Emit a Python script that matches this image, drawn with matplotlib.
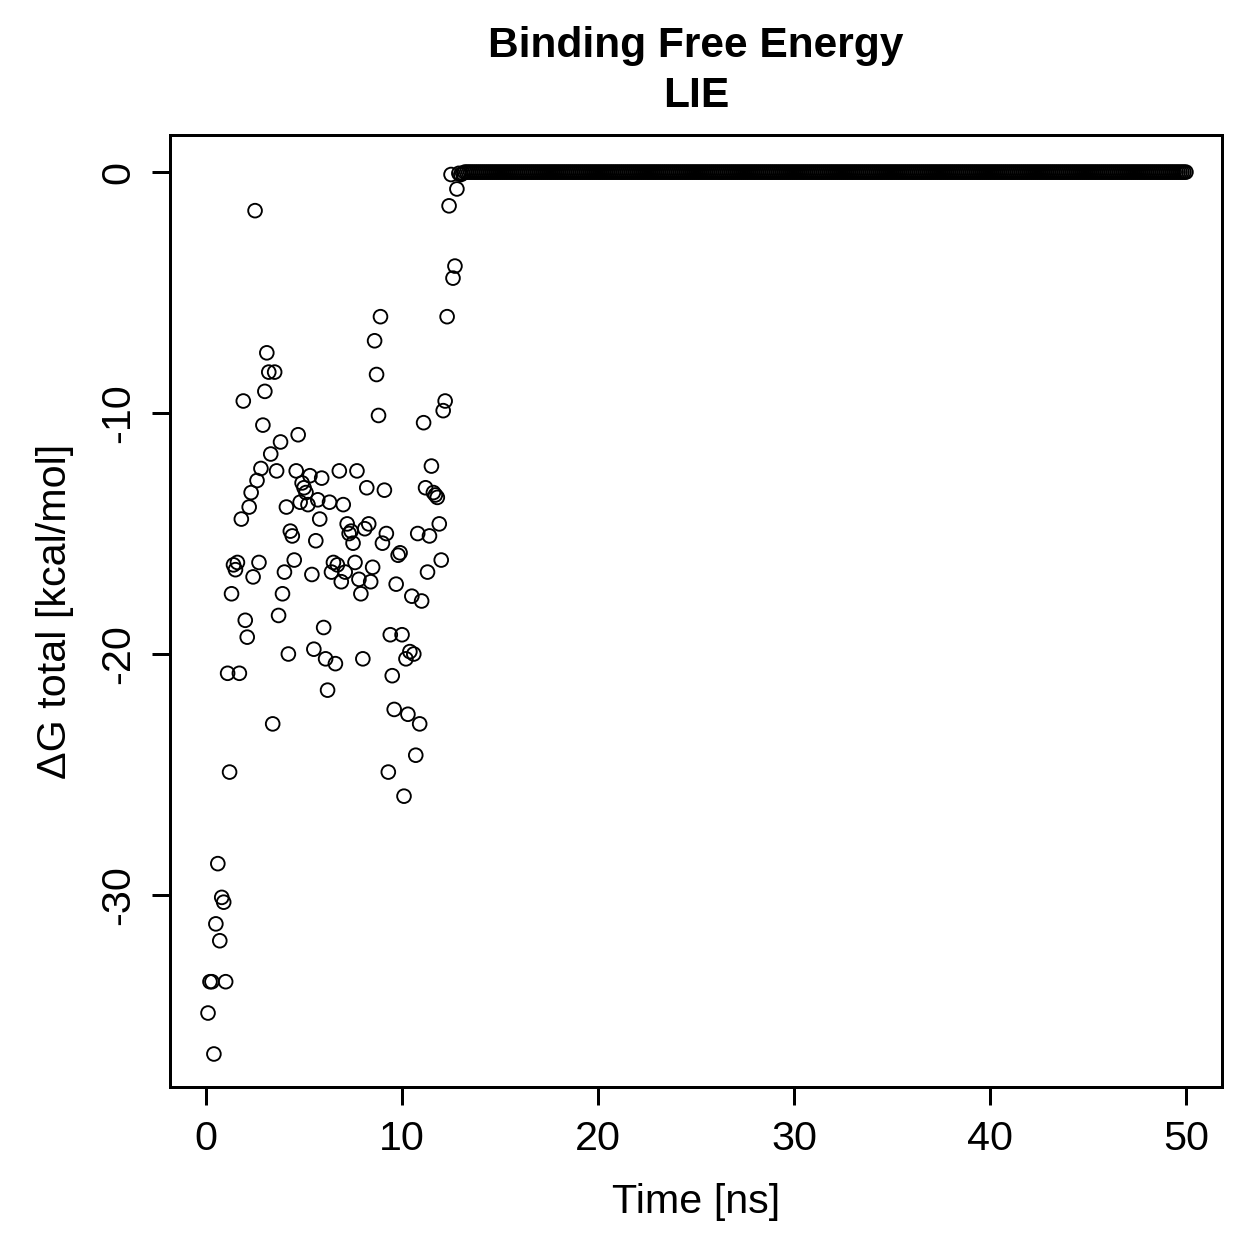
import numpy as np
import matplotlib
matplotlib.use("Agg")
import matplotlib.pyplot as plt

# Sampling: one frame every 0.1 ns from 0.1 to 50 ns
dt = 0.1
n_frames = 500

# Read values (kcal/mol) for the first frames; the rest are 0
early_dG = [
    -34.9, -33.6, -33.6, -36.6, -31.2, -28.7, -31.9, -30.1, -30.3, -33.6,
    -20.8, -24.9, -17.5, -16.3, -16.5, -16.2, -20.8, -14.4, -9.5, -18.6,
    -19.3, -13.9, -13.3, -16.8, -1.6, -12.8, -16.2, -12.3, -10.5, -9.1,
    -7.5, -8.3, -11.7, -22.9, -8.3, -12.4, -18.4, -11.2, -17.5, -16.6,
    -13.9, -20.0, -14.9, -15.1, -16.1, -12.4, -10.9, -13.7, -12.9, -13.1,
    -13.3, -13.8, -12.6, -16.7, -19.8, -15.3, -13.6, -14.4, -12.7, -18.9,
    -20.2, -21.5, -13.7, -16.6, -16.2, -20.4, -16.3, -12.4, -17.0, -13.8,
    -16.6, -14.6, -15.0, -14.9, -15.4, -16.2, -12.4, -16.9, -17.5, -20.2,
    -14.8, -13.1, -14.6, -17.0, -16.4, -7.0, -8.4, -10.1, -6.0, -15.4,
    -13.2, -15.0, -24.9, -19.2, -20.9, -22.3, -17.1, -15.9, -15.8, -19.2,
    -25.9, -20.2, -22.5, -19.9, -17.6, -20.0, -24.2, -15.0, -22.9, -17.8,
    -10.4, -13.1, -16.6, -15.1, -12.2, -13.3, -13.4, -13.5, -14.6, -16.1,
    -9.9, -9.5, -6.0, -1.4, -0.1, -4.4, -3.9, -0.7, -0.05, -0.1, -0.05,
]
dG = early_dG + [0.0] * (n_frames - len(early_dG))
time_ns = dt * np.arange(1, n_frames + 1)

plt.rcParams['font.family'] = ['Liberation Sans', 'DejaVu Sans']

fig = plt.figure(figsize=(1259 / 180, 1259 / 180), dpi=180)
ax = fig.add_axes([170 / 1259, 1 - 1087 / 1259, (1222 - 170) / 1259, (1087 - 135) / 1259])

ax.scatter(time_ns, dG, s=30, facecolors='none', edgecolors='black', linewidths=0.75)

ax.set_xlim(-1.84, 51.84)
ax.set_ylim(-37.97, 1.54)
ax.set_xticks([0, 10, 20, 30, 40, 50])
ax.set_yticks([0, -10, -20, -30])
ax.set_yticklabels(['0', '-10', '-20', '-30'], rotation=90, va='center')

for s in ax.spines.values():
    s.set_linewidth(1.2)
ax.tick_params(direction='out', length=7.2, width=1.2, labelsize=16.5, pad=6)

ax.set_xlabel('Time [ns]', fontsize=16.5, labelpad=10)
ax.set_ylabel('ΔG total [kcal/mol]', fontsize=16.5, labelpad=10)

fig.text(0.5 * (170 + 1222) / 1259, 1 - 46 / 1259, 'Binding Free Energy', ha='center', va='center',
         fontsize=17, fontweight='bold')
fig.text(0.5 * (170 + 1222) / 1259, 1 - 96 / 1259, 'LIE', ha='center', va='center',
         fontsize=17, fontweight='bold')

fig.savefig('out.png', dpi=180)
